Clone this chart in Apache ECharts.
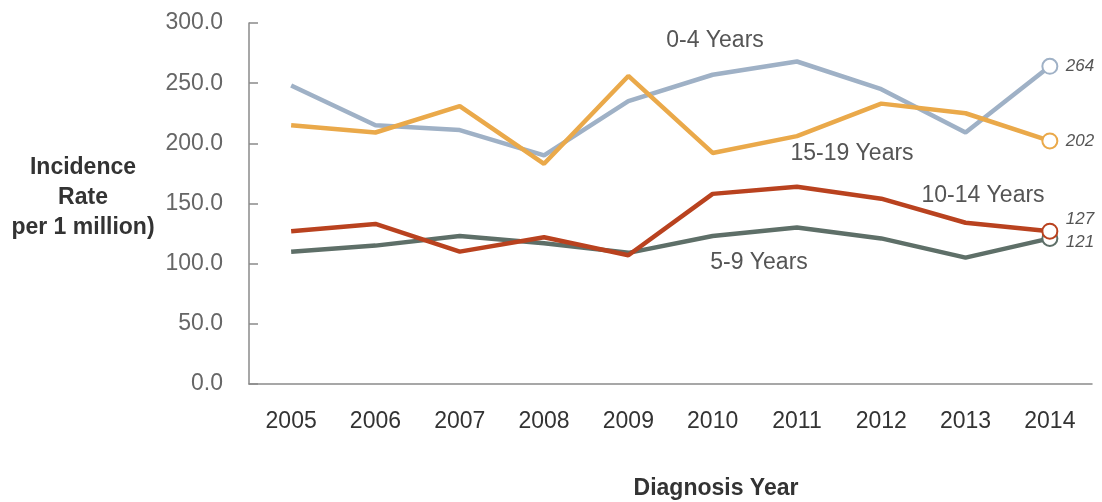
<!DOCTYPE html>
<html>
<head>
<meta charset="utf-8">
<script src="https://cdn.jsdelivr.net/npm/echarts@6/dist/echarts.min.js"></script>
<style>
  html, body { margin: 0; padding: 0; background: #fff; }
  #chart { width: 1102px; height: 502px; }
</style>
</head>
<body>
<div id="chart"></div>
<script>
// Incidence rate per 1 million by diagnosis year, four age groups.
const years = ["2005", "2006", "2007", "2008", "2009", "2010", "2011", "2012", "2013", "2014"]
const yTicks = [0, 50, 100, 150, 200, 250, 300]

const age0to4 = [248, 215, 211, 190, 235, 257, 268, 245, 209, 264]
const age5to9 = [110, 115, 123, 117, 109, 123, 130, 121, 105, 121]
const age10to14 = [127, 133, 110, 122, 107, 158, 164, 154, 134, 127]
const age15to19 = [215, 209, 231, 183, 256, 192, 206, 233, 225, 202]

const FONT = "Liberation Sans, Arial, sans-serif"

// Age-group colours.
const C_0_4 = "#9fb1c6"
const C_5_9 = "#5e6f68"
const C_10_14 = "#b9421f"
const C_15_19 = "#eaa94a"

// One line per age group; only the 2014 point gets a hollow ring + value label.
const lineSeries = (name, data, color, labelOffset) => ({
  name,
  type: "line",
  data,
  color,
  lineStyle: {width: 4.5, color},
  symbol: (value, params) => (params.dataIndex === data.length - 1 ? "emptyCircle" : "none"),
  symbolSize: 15,
  itemStyle: {color, borderWidth: 2},
  emphasis: {disabled: true},
  endLabel: {
    show: true,
    formatter: "{c}",
    distance: 16,
    offset: labelOffset,
    fontFamily: FONT,
    fontStyle: "italic",
    fontSize: 17,
    color: "#555",
  },
})

const text = (x, y, str, opts = {}) => ({
  type: "text",
  x,
  y,
  style: {
    text: str,
    fontFamily: FONT,
    fontSize: 23,
    fill: "#555",
    align: "center",
    verticalAlign: "middle",
    ...opts,
  },
})

const chart = echarts.init(document.getElementById("chart"))
chart.setOption({
  animation: false,
  grid: {left: 249, right: 10, top: 23, bottom: 118},
  xAxis: {
    type: "category",
    data: years,
    boundaryGap: true,
    axisLine: {lineStyle: {color: "#8a8a8a", width: 1.5}},
    axisTick: {inside: true, length: 9, lineStyle: {color: "#8a8a8a", width: 1.5}},
    axisLabel: {margin: 26, fontFamily: FONT, fontSize: 23, color: "#333"},
  },
  yAxis: {
    type: "value",
    min: yTicks[0],
    max: yTicks[yTicks.length - 1],
    interval: 50,
    axisLine: {show: true, lineStyle: {color: "#8a8a8a", width: 1.5}},
    axisTick: {show: true, inside: true, length: 9, lineStyle: {color: "#8a8a8a", width: 1.5}},
    splitLine: {show: false},
    axisLabel: {
      margin: 26,
      fontFamily: FONT,
      fontSize: 23,
      color: "#666",
      formatter: (v) => v.toFixed(1),
    },
  },
  series: [
    lineSeries("5-9 Years", age5to9, C_5_9, [0, 4]),
    lineSeries("0-4 Years", age0to4, C_0_4, [0, 0]),
    lineSeries("10-14 Years", age10to14, C_10_14, [0, -12]),
    lineSeries("15-19 Years", age15to19, C_15_19, [0, 0]),
  ],
  graphic: [
    text(715, 41, "0-4 Years"),
    text(852, 154, "15-19 Years"),
    text(983, 196, "10-14 Years"),
    text(759, 263, "5-9 Years"),
    text(716, 489, "Diagnosis Year", {fontWeight: "bold", fill: "#333"}),
    text(83, 198, "Incidence\nRate\nper 1 million)", {fontWeight: "bold", fill: "#333", lineHeight: 30}),
  ],
})
</script>
</body>
</html>
